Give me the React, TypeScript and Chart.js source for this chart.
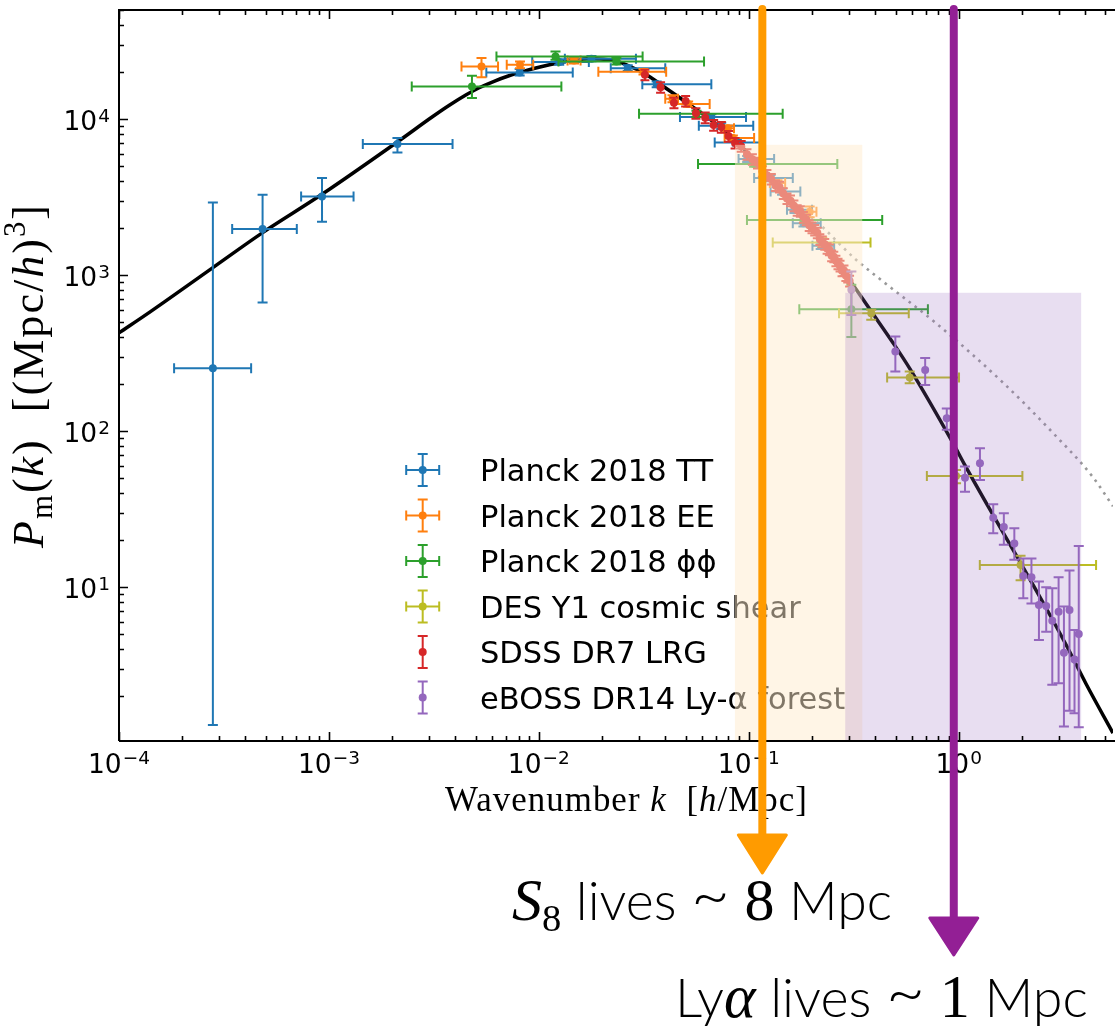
import React, { useEffect, useRef } from "react";
import { Chart, registerables } from "chart.js";

Chart.register(...registerables);

const CANVAS_W = 1117;
const CANVAS_H = 1029;

// axis ranges
const X_MIN = 1e-4;
const X_MAX = 5.43;
const Y_MIN = 1.035;
const Y_MAX = 5.0e4;

const X_TICK_VALUES = [1e-4, 1e-3, 1e-2, 1e-1, 1];
const X_TICK_EXPONENTS = ["\u22124", "\u22123", "\u22122", "\u22121", "0"];
const Y_TICK_VALUES = [1e1, 1e2, 1e3, 1e4];
const Y_TICK_EXPONENTS = ["1", "2", "3", "4"];

// theory (linear) curve
const THEORY_K = [1.0e-4, 1.418e-4, 2.79e-4, 4.814e-4, 9.265e-4, 2.123e-3, 3.111e-3, 3.745e-3, 4.508e-3, 5.195e-3, 6.118e-3, 7.207e-3, 8.49e-3, 1.0e-2, 1.244e-2, 1.465e-2, 1.726e-2, 2.033e-2, 2.394e-2, 2.67e-2, 3.145e-2, 3.624e-2, 4.13e-2, 4.761e-2, 5.426e-2, 6.255e-2, 7.129e-2, 8.396e-2, 9.367e-2, 0.1191, 0.1418, 0.1707, 0.2055, 0.2368, 0.2641, 0.3111, 0.3786, 0.4973, 0.5857, 0.9265, 1.068, 1.465, 1.946, 2.528, 3.25, 4.044, 5.428];
const THEORY_P = [426.7, 586.2, 1114, 1867, 3296, 7152, 10345, 12260, 14310, 15870, 17470, 18950, 20250, 21480, 22950, 23820, 24350, 24170, 23290, 21960, 19810, 17470, 15410, 13490, 11900, 10420, 9126, 7590, 6546, 4594, 3548, 2661, 1952, 1496, 1217, 879.4, 599.4, 352.2, 250.8, 86.67, 60.81, 28.65, 14.75, 7.93, 4.267, 2.399, 1.164];

// non-linear (dotted) curve
const HALOFIT_K = [0.153, 0.1905, 0.232, 0.273, 0.321, 0.432, 0.787, 1.63, 2.81, 4.35, 5.43];
const HALOFIT_P = [3130, 2470, 1952, 1564, 1271, 919, 487, 204, 97.5, 50.9, 33.0];

// Planck 2018 TT
const TT_K = [2.8e-4, 4.83e-4, 9.27e-4, 2.12e-3, 8.1e-3, 1.25e-2, 1.78e-2, 2.65e-2, 3.64e-2, 6.63e-2, 7.39e-2, 8.77e-2, 9.82e-2, 0.127, 0.144, 0.165, 0.182, 0.22];
const TT_P = [253, 1972, 3190, 6918, 19900, 23200, 24400, 21200, 16700, 10300, 9060, 7080, 5545, 4190, 3433, 2623, 2154, 1541];
const TT_K_LO = [1.83e-4, 3.46e-4, 7.37e-4, 1.45e-3, 5.62e-3, 9.3e-3, 1.33e-2, 2.2e-2, 3.11e-2, 4.7e-2, 5.78e-2, 6.88e-2, 8.94e-2, 0.106, 0.127, 0.152, 0.162, 0.201];
const TT_K_HI = [4.26e-4, 7.03e-4, 1.31e-3, 3.88e-3, 1.45e-2, 1.73e-2, 2.9e-2, 4.0e-2, 6.63e-2, 9.7e-2, 0.105, 0.119, 0.132, 0.162, 0.176, 0.2, 0.22, 0.255];
const TT_P_LO = [1.31, 667, 2198, 6110, 19000, 22300, 23500, 20300, 16000, 9850, 8650, 6770, 5300, 4000, 3280, 2500, 2050, 1470];
const TT_P_HI = [2920, 3273, 4188, 7553, 20900, 24200, 25400, 22100, 17400, 10750, 9470, 7400, 5800, 4380, 3590, 2750, 2260, 1615];

// Planck 2018 EE
const EE_K = [5.33e-3, 8.13e-3, 1.47e-2, 3.15e-2, 4.33e-2, 5.14e-2, 7.95e-2, 8.4e-2, 0.137, 0.195];
const EE_P = [21700, 22300, 23700, 20100, 13500, 12480, 8750, 7560, 3890, 2545];
const EE_K_LO = [4.28e-3, 7.03e-3, 1.37e-2, 1.92e-2, 4.0e-2, 4.44e-2, 7.4e-2, 7.67e-2, 0.126, 0.18];
const EE_K_HI = [6.39e-3, 9.4e-3, 1.58e-2, 4.04e-2, 4.6e-2, 6.51e-2, 8.5e-2, 0.106, 0.149, 0.21];
const EE_P_LO = [18570, 21200, 22700, 19300, 12800, 11980, 8400, 7260, 3730, 2350];
const EE_P_HI = [24600, 23400, 24700, 20900, 14200, 12980, 9100, 7860, 4050, 2750];

// Planck 2018 phi-phi
const PP_K = [4.8e-3, 1.2e-2, 2.34e-2, 5.63e-2, 0.106, 0.183, 0.308];
const PP_P = [16200, 25200, 23400, 10800, 5150, 2260, 605];
const PP_K_LO = [2.48e-3, 6.28e-3, 1.24e-2, 3.0e-2, 5.73e-2, 9.8e-2, 0.174];
const PP_K_HI = [1.28e-2, 3.12e-2, 6.12e-2, 0.145, 0.264, 0.432, 0.713];
const PP_P_LO = [13650, 24000, 22400, 10300, 4950, 2170, 401];
const PP_P_HI = [18960, 27100, 24500, 11300, 5360, 2350, 867];

// DES Y1 cosmic shear
const DES_K = [0.224, 0.383, 0.584, 0.971, 1.97];
const DES_P = [1618, 570, 221, 51.6, 13.9];
const DES_K_LO = [0.13, 0.269, 0.456, 0.705, 1.26];
const DES_K_HI = [0.38, 0.578, 1.003, 2.01, 4.51];
const DES_P_LO = [1525, 517, 203, 46.4, 11.1];
const DES_P_HI = [1734, 600, 241, 56.5, 15.9];

// SDSS DR7 LRG
const SDSS_K = [0.032, 0.038, 0.044, 0.05, 0.056, 0.062, 0.068, 0.074, 0.08, 0.086, 0.092, 0.098, 0.104, 0.11, 0.116, 0.122, 0.128, 0.134, 0.14, 0.146, 0.152, 0.158, 0.164, 0.17, 0.176, 0.182, 0.188, 0.194, 0.2, 0.206, 0.212, 0.218, 0.224, 0.23, 0.236, 0.242, 0.248, 0.254, 0.26, 0.266, 0.272, 0.278, 0.284, 0.29, 0.296, 0.302];
const SDSS_P = [19230, 15990, 12720, 13060, 10900, 10210, 9152, 8886, 7780, 7026, 6704, 5948, 5525, 5239, 4634, 4370, 4130, 3747, 3670, 3340, 3094, 2999, 2789, 2603, 2564, 2354, 2262, 2085, 2013, 1943, 1867, 1696, 1637, 1580, 1484, 1457, 1332, 1310, 1235, 1182, 1147, 1067, 1070, 995.6, 970.9, 917.9];
const SDSS_DP = [1500, 1250, 1000, 1000, 850, 800, 720, 700, 610, 550, 520, 470, 430, 410, 360, 340, 320, 290, 290, 260, 240, 235, 220, 205, 200, 185, 175, 165, 160, 150, 145, 135, 130, 125, 115, 115, 105, 100, 95, 92, 90, 83, 83, 78, 75, 72];

// eBOSS DR14 Ly-alpha forest
const EB_K = [0.308, 0.499, 0.692, 0.877, 1.071, 1.262, 1.46, 1.64, 1.84, 2.03, 2.22, 2.41, 2.61, 2.79, 2.99, 3.17, 3.37, 3.56, 3.73];
const EB_P = [805, 324, 247, 121, 50.4, 62.4, 27.9, 24.3, 19.1, 11.8, 11.6, 7.7, 7.59, 6.11, 6.98, 3.81, 7.15, 3.45, 5.02];
const EB_P_LO = [556, 241, 198, 102, 41.0, 48.7, 22.2, 18.7, 15.0, 8.49, 7.88, 4.59, 5.19, 2.37, 2.43, 1.28, 1.62, 1.56, 1.27];
const EB_P_HI = [1055, 404, 294, 140, 59.3, 77.8, 34.0, 29.8, 23.9, 15.3, 15.3, 10.9, 10.0, 9.86, 11.6, 7.52, 12.8, 5.32, 18.4];

// shaded bands (k range, top value)
const S8_BAND = [0.0859, 0.347, 6840];
const LYA_BAND = [0.288, 3.83, 771];
// annotation arrows (k positions)
const S8_ARROW_K = 0.116;
const LYA_ARROW_K = 0.947;

const LEGEND_LABELS = ["Planck 2018 TT", "Planck 2018 EE", "Planck 2018 \u03d5\u03d5", "DES Y1 cosmic shear", "SDSS DR7 LRG", "eBOSS DR14 Ly-\u03b1 forest"];
const COLORS = ["#1f77b4", "#ff7f0e", "#2ca02c", "#bcbd22", "#d62728", "#9467bd"];

const SERIF = '"Liberation Serif", "DejaVu Serif", serif';
const SANS = '"DejaVu Sans", sans-serif';
const ANNOT_SANS = 'Lato, "Open Sans", sans-serif';

type Seg = { t: string; fam: string; it?: boolean; s?: number; dy?: number; w?: string };

function segFont(g: Seg, size: number) {
  return `${g.it ? "italic" : "normal"} ${g.w ?? "normal"} ${(size * (g.s ?? 1)).toFixed(2)}px ${g.fam}`;
}
function setLS(ctx: any, ls: number) {
  if ("letterSpacing" in ctx) ctx.letterSpacing = `${ls}px`;
}
function richWidth(ctx: CanvasRenderingContext2D, segs: Seg[], size: number, ls = 0) {
  let w = 0;
  setLS(ctx, 0);
  for (const g of segs) {
    ctx.font = segFont(g, size);
    w += ctx.measureText(g.t).width + ls * g.t.length;
  }
  return w;
}
function drawRich(ctx: CanvasRenderingContext2D, segs: Seg[], x: number, y: number, size: number, ls = 0) {
  ctx.textAlign = "left";
  ctx.textBaseline = "alphabetic";
  for (const g of segs) {
    setLS(ctx, 0);
    ctx.font = segFont(g, size);
    const w = ctx.measureText(g.t).width + ls * g.t.length;
    setLS(ctx, ls);
    ctx.fillText(g.t, x, y + (g.dy ?? 0) * size);
    x += w;
  }
  setLS(ctx, 0);
}
function fitSize(ctx: CanvasRenderingContext2D, segs: Seg[], target: number) {
  const base = 30;
  return (base * target) / richWidth(ctx, segs, base);
}
function fitSpacing(ctx: CanvasRenderingContext2D, segs: Seg[], size: number, target: number) {
  const w = richWidth(ctx, segs, size);
  const n = segs.reduce((s, g) => s + g.t.length, 0);
  return Math.max(0, (target - w) / n);
}

function pts(ks: number[], ps: number[]) {
  return ks.map((k, i) => ({ x: k, y: ps[i] }));
}

const errorBarPlugin = {
  id: "errorBars",
  beforeDatasetDraw(chart: any, args: any) {
    const ds = chart.data.datasets[args.index];
    if (!ds.err) return;
    const xs = chart.scales.x;
    const ys = chart.scales.y;
    const ctx: CanvasRenderingContext2D = chart.ctx;
    const a = chart.chartArea;
    const e = ds.err;
    const cap = ds.capSize ?? 5;
    ctx.save();
    ctx.beginPath();
    ctx.rect(a.left, a.top, a.right - a.left, a.bottom - a.top);
    ctx.clip();
    ctx.strokeStyle = ds.pointBackgroundColor;
    ctx.lineWidth = 2;
    ctx.lineCap = "butt";
    ctx.beginPath();
    ds.data.forEach((d: any, i: number) => {
      const px = xs.getPixelForValue(d.x);
      const py = ys.getPixelForValue(d.y);
      if (e.yLo) {
        const y1 = ys.getPixelForValue(e.yLo[i]);
        const y2 = ys.getPixelForValue(e.yHi[i]);
        ctx.moveTo(px, y1); ctx.lineTo(px, y2);
        ctx.moveTo(px - cap, y1); ctx.lineTo(px + cap, y1);
        ctx.moveTo(px - cap, y2); ctx.lineTo(px + cap, y2);
      }
      if (e.xLo) {
        const x1 = xs.getPixelForValue(e.xLo[i]);
        const x2 = xs.getPixelForValue(e.xHi[i]);
        ctx.moveTo(x1, py); ctx.lineTo(x2, py);
        ctx.moveTo(x1, py - cap); ctx.lineTo(x1, py + cap);
        ctx.moveTo(x2, py - cap); ctx.lineTo(x2, py + cap);
      }
    });
    ctx.stroke();
    ctx.restore();
  },
};

const decorPlugin = {
  id: "decor",
  afterDatasetsDraw(chart: any) {
    const ctx: CanvasRenderingContext2D = chart.ctx;
    const xs = chart.scales.x;
    const ys = chart.scales.y;
    const a = chart.chartArea;

    // ---- legend ----
    ctx.save();
    const hasX = [true, true, true, true, false, false];
    LEGEND_LABELS.forEach((lab, i) => {
      const cy = 470 + i * 45.5;
      const cx = 422.7;
      ctx.strokeStyle = COLORS[i];
      ctx.fillStyle = COLORS[i];
      ctx.lineWidth = 2;
      ctx.beginPath();
      ctx.moveTo(cx, cy - 16); ctx.lineTo(cx, cy + 16);
      ctx.moveTo(cx - 5, cy - 16); ctx.lineTo(cx + 5, cy - 16);
      ctx.moveTo(cx - 5, cy + 16); ctx.lineTo(cx + 5, cy + 16);
      if (hasX[i]) {
        ctx.moveTo(cx - 16.5, cy); ctx.lineTo(cx + 16.5, cy);
        ctx.moveTo(cx - 16.5, cy - 5); ctx.lineTo(cx - 16.5, cy + 5);
        ctx.moveTo(cx + 16.5, cy - 5); ctx.lineTo(cx + 16.5, cy + 5);
      }
      ctx.stroke();
      ctx.beginPath();
      ctx.arc(cx, cy, 4, 0, Math.PI * 2);
      ctx.fill();
      ctx.fillStyle = "#000";
      ctx.font = `30.5px ${SANS}`;
      ctx.textAlign = "left";
      ctx.textBaseline = "alphabetic";
      ctx.fillText(lab, 480, cy + 11);
    });
    ctx.restore();

    // ---- translucent bands ----
    ctx.save();
    {
      const x1 = xs.getPixelForValue(S8_BAND[0]);
      const x2 = xs.getPixelForValue(S8_BAND[1]);
      const yt = ys.getPixelForValue(S8_BAND[2]);
      ctx.fillStyle = "rgba(255,235,205,0.5)";
      ctx.fillRect(x1, yt, x2 - x1, a.bottom - yt);
      const u1 = xs.getPixelForValue(LYA_BAND[0]);
      const u2 = xs.getPixelForValue(LYA_BAND[1]);
      const ut = ys.getPixelForValue(LYA_BAND[2]);
      ctx.fillStyle = "rgba(148,103,189,0.22)";
      ctx.fillRect(u1, ut, u2 - u1, a.bottom - ut);
    }
    ctx.restore();

    // ---- spines and ticks ----
    ctx.save();
    ctx.strokeStyle = "#000";
    ctx.lineWidth = 2;
    ctx.beginPath();
    ctx.moveTo(a.left, a.bottom); ctx.lineTo(a.left, a.top); ctx.lineTo(a.right + 2, a.top);
    ctx.moveTo(a.left, a.bottom); ctx.lineTo(a.right + 2, a.bottom);
    ctx.stroke();
    ctx.lineWidth = 1.6;
    ctx.beginPath();
    for (let e = -4; e <= 0; e++) {
      for (let m = 1; m <= 9; m++) {
        const v = m * Math.pow(10, e);
        if (v < X_MIN * 0.999 || v > X_MAX) continue;
        const px = Math.round(xs.getPixelForValue(v)) + 0.5;
        const len = m === 1 ? 9 : 5;
        ctx.moveTo(px, a.bottom); ctx.lineTo(px, a.bottom - len);
        ctx.moveTo(px, a.top); ctx.lineTo(px, a.top + len);
      }
    }
    for (let e = 0; e <= 4; e++) {
      for (let m = 1; m <= 9; m++) {
        const v = m * Math.pow(10, e);
        if (v < Y_MIN || v > Y_MAX) continue;
        const py = Math.round(ys.getPixelForValue(v)) + 0.5;
        const len = m === 1 ? 9 : 5;
        ctx.moveTo(a.left, py); ctx.lineTo(a.left + len, py);
      }
    }
    ctx.stroke();

    // ---- tick labels ----
    ctx.fillStyle = "#000";
    ctx.textBaseline = "alphabetic";
    ctx.textAlign = "left";
    const baseFont = `26.5px ${SANS}`;
    const supFont = `18.5px ${SANS}`;
    X_TICK_VALUES.forEach((v, i) => {
      const px = xs.getPixelForValue(v);
      ctx.font = baseFont;
      const wb = ctx.measureText("10").width;
      ctx.font = supFont;
      const we = ctx.measureText(X_TICK_EXPONENTS[i]).width;
      const sx = px - (wb + we + 1) / 2;
      ctx.font = baseFont;
      ctx.fillText("10", sx, 773);
      ctx.font = supFont;
      ctx.fillText(X_TICK_EXPONENTS[i], sx + wb + 1, 764);
    });
    Y_TICK_VALUES.forEach((v, i) => {
      const py = ys.getPixelForValue(v);
      ctx.font = baseFont;
      const wb = ctx.measureText("10").width;
      ctx.font = supFont;
      const we = ctx.measureText(Y_TICK_EXPONENTS[i]).width;
      const sx = 110 - (wb + we + 1);
      ctx.font = baseFont;
      ctx.fillText("10", sx, py + 11);
      ctx.font = supFont;
      ctx.fillText(Y_TICK_EXPONENTS[i], sx + wb + 1, py + 3);
    });

    // ---- axis titles ----
    const xt: Seg[] = [
      { t: "Wavenumber ", fam: SERIF },
      { t: "k", fam: SERIF, it: true },
      { t: "  [", fam: SERIF },
      { t: "h", fam: SERIF, it: true },
      { t: "/Mpc]", fam: SERIF },
    ];
    const xsz = fitSize(ctx, xt, 363) * 0.94;
    const xls = fitSpacing(ctx, xt, xsz, 363);
    const xw = richWidth(ctx, xt, xsz, xls);
    drawRich(ctx, xt, 626.5 - xw / 2, 811, xsz, xls);

    const yt: Seg[] = [
      { t: "P", fam: SERIF, it: true },
      { t: "m", fam: SERIF, s: 0.7, dy: 0.2 },
      { t: "(", fam: SERIF },
      { t: "k", fam: SERIF, it: true },
      { t: ")  [(Mpc/", fam: SERIF },
      { t: "h", fam: SERIF, it: true },
      { t: ")", fam: SERIF },
      { t: "3", fam: SERIF, s: 0.7, dy: -0.42 },
      { t: "]", fam: SERIF },
    ];
    const ysz = fitSize(ctx, yt, 345) * 0.9;
    const yls = fitSpacing(ctx, yt, ysz, 345);
    const yw = richWidth(ctx, yt, ysz, yls);
    ctx.save();
    ctx.translate(43, (a.top + a.bottom) / 2);
    ctx.rotate(-Math.PI / 2);
    drawRich(ctx, yt, -yw / 2, 0, ysz, yls);
    ctx.restore();
    ctx.restore();

    // ---- annotations ----
    const drawArrow = (k: number, color: string, yEnd: number, tipY: number, half: number, lw: number) => {
      const px = xs.getPixelForValue(k);
      ctx.save();
      ctx.strokeStyle = color;
      ctx.fillStyle = color;
      ctx.lineWidth = lw;
      ctx.lineCap = "round";
      ctx.beginPath();
      ctx.moveTo(px, 9);
      ctx.lineTo(px, yEnd + 4);
      ctx.stroke();
      ctx.beginPath();
      ctx.moveTo(px - half, yEnd);
      ctx.lineTo(px + half, yEnd);
      ctx.lineTo(px, tipY);
      ctx.closePath();
      ctx.lineJoin = "round";
      ctx.lineWidth = 3;
      ctx.fill();
      ctx.stroke();
      ctx.restore();
    };
    drawArrow(S8_ARROW_K, "#ff9b00", 835, 873, 24, 8);
    drawArrow(LYA_ARROW_K, "#931f95", 918, 955, 24, 8);

    ctx.save();
    ctx.fillStyle = "#000";
    const s8: Seg[] = [
      { t: "S", fam: SERIF, it: true, s: 1.12 },
      { t: "8", fam: SERIF, s: 0.72, dy: 0.2 },
      { t: " lives ", fam: ANNOT_SANS, w: "300" },
      { t: "~", fam: ANNOT_SANS, w: "300", s: 1.25, dy: -0.04 },
      { t: " ", fam: ANNOT_SANS, w: "300" },
      { t: "8", fam: SERIF, s: 1.12 },
      { t: " Mpc", fam: ANNOT_SANS, w: "300" },
    ];
    const s8size = fitSize(ctx, s8, 380);
    drawRich(ctx, s8, 512, 920, s8size);
    const lya: Seg[] = [
      { t: "Ly", fam: ANNOT_SANS, w: "300" },
      { t: "\u03b1", fam: SERIF, it: true, s: 1.12 },
      { t: " lives ", fam: ANNOT_SANS, w: "300" },
      { t: "~", fam: ANNOT_SANS, w: "300", s: 1.25, dy: -0.04 },
      { t: " ", fam: ANNOT_SANS, w: "300" },
      { t: "1", fam: SERIF, s: 1.12 },
      { t: " Mpc", fam: ANNOT_SANS, w: "300" },
    ];
    const lsize = fitSize(ctx, lya, 413);
    drawRich(ctx, lya, 675, 1017, lsize);
    ctx.restore();
  },
};

function scatterSet(label: string, color: string, ks: number[], ps: number[], err: any, order: number, capSize = 5) {
  return {
    type: "scatter" as const,
    label,
    data: pts(ks, ps),
    pointRadius: 4,
    pointHoverRadius: 4,
    pointBorderWidth: 0,
    pointBackgroundColor: color,
    pointBorderColor: color,
    order,
    err,
    capSize,
  };
}

export default function App() {
  const ref = useRef<HTMLCanvasElement | null>(null);
  useEffect(() => {
    if (!ref.current) return;
    const sdssLo = SDSS_P.map((p, i) => p - SDSS_DP[i]);
    const sdssHi = SDSS_P.map((p, i) => p + SDSS_DP[i]);
    const chart = new Chart(ref.current, {
      type: "scatter",
      data: {
        datasets: [
          {
            type: "line",
            label: "theory",
            data: pts(THEORY_K, THEORY_P),
            borderColor: "#000",
            borderWidth: 3.5,
            pointRadius: 0,
            fill: false,
            cubicInterpolationMode: "monotone",
            order: 10,
          } as any,
          {
            type: "line",
            label: "nonlinear",
            data: pts(HALOFIT_K, HALOFIT_P),
            borderColor: "#999999",
            borderWidth: 2.6,
            borderDash: [2.6, 5],
            pointRadius: 0,
            fill: false,
            cubicInterpolationMode: "monotone",
            order: 9,
          } as any,
          scatterSet(LEGEND_LABELS[0], COLORS[0], TT_K, TT_P, { xLo: TT_K_LO, xHi: TT_K_HI, yLo: TT_P_LO, yHi: TT_P_HI }, 6),
          scatterSet(LEGEND_LABELS[1], COLORS[1], EE_K, EE_P, { xLo: EE_K_LO, xHi: EE_K_HI, yLo: EE_P_LO, yHi: EE_P_HI }, 5),
          scatterSet(LEGEND_LABELS[2], COLORS[2], PP_K, PP_P, { xLo: PP_K_LO, xHi: PP_K_HI, yLo: PP_P_LO, yHi: PP_P_HI }, 4),
          scatterSet(LEGEND_LABELS[3], COLORS[3], DES_K, DES_P, { xLo: DES_K_LO, xHi: DES_K_HI, yLo: DES_P_LO, yHi: DES_P_HI }, 3),
          scatterSet(LEGEND_LABELS[4], COLORS[4], SDSS_K, SDSS_P, { yLo: sdssLo, yHi: sdssHi }, 2, 4.5),
          scatterSet(LEGEND_LABELS[5], COLORS[5], EB_K, EB_P, { yLo: EB_P_LO, yHi: EB_P_HI }, 1),
        ] as any,
      },
      options: {
        responsive: false,
        animation: false,
        events: [],
        layout: { padding: { left: 119, top: 10, right: 0, bottom: CANVAS_H - 741 } },
        plugins: { legend: { display: false }, tooltip: { enabled: false } },
        scales: {
          x: { type: "logarithmic", min: X_MIN, max: X_MAX, display: false },
          y: { type: "logarithmic", min: Y_MIN, max: Y_MAX, display: false },
        },
      } as any,
      plugins: [errorBarPlugin, decorPlugin],
    });
    return () => chart.destroy();
  }, []);
  return (
    <div style={{ position: "absolute", left: 0, top: 0, width: CANVAS_W, height: CANVAS_H, background: "#fff" }}>
      <canvas ref={ref} width={CANVAS_W} height={CANVAS_H} style={{ width: CANVAS_W, height: CANVAS_H, display: "block" }} />
    </div>
  );
}
